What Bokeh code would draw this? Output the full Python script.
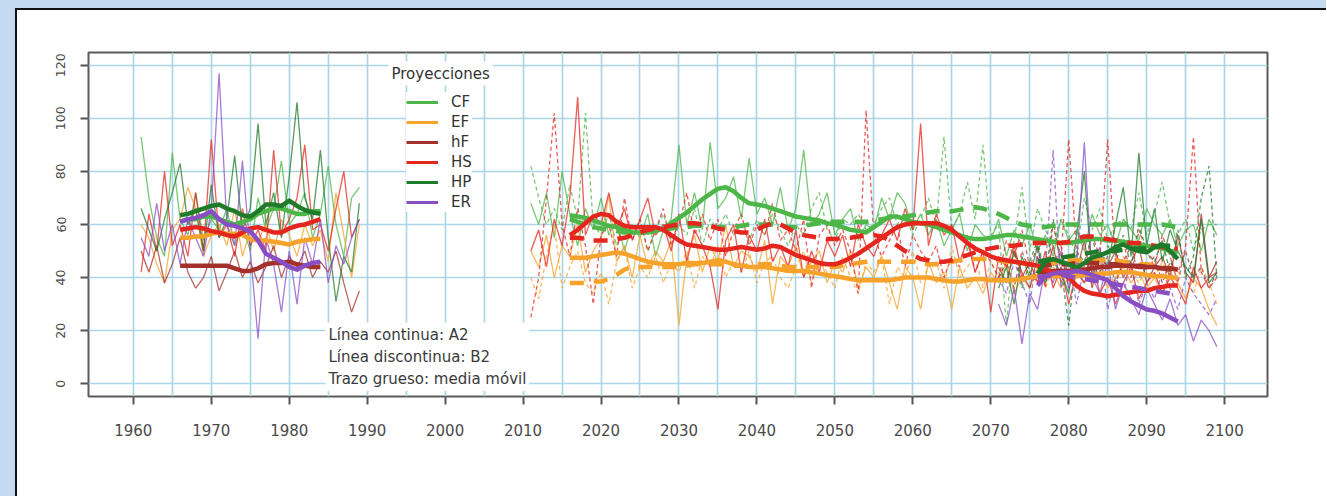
from bokeh.plotting import figure
from bokeh.models import Range1d, FixedTicker, Legend, LegendItem, Label, Div
from bokeh.layouts import row, column
from bokeh.embed import file_html
from bokeh.resources import INLINE

# ---------------- data ----------------
hist_years = list(range(1961, 1990))
hist_ma_years = list(range(1966, 1985))
fut_years = list(range(2011, 2100))
fut_ma_years = list(range(2016, 2095))
late_years = list(range(2071, 2100))
late_ma_years = list(range(2076, 2095))

x_ticks = list(range(1960, 2101, 10))
y_ticks = list(range(0, 121, 20))

cf_hist = [93, 70, 55, 48, 87, 62, 56, 72, 54, 62,
           58, 66, 52, 60, 50, 70, 58, 66, 84, 60,
           64, 72, 55, 64, 82, 60, 48, 70, 74]
ef_hist = [60, 55, 45, 38, 58, 62, 74, 66, 48, 56,
           60, 52, 66, 48, 58, 54, 60, 50, 62, 56,
           48, 60, 52, 58, 46, 72, 56, 40, 60]
hf_hist = [50, 42, 52, 38, 45, 55, 42, 36, 40, 48,
           35, 42, 50, 40, 46, 38, 44, 52, 40, 48,
           44, 50, 40, 46, 42, 50, 38, 27, 35]
hs_hist = [42, 64, 50, 80, 52, 60, 48, 72, 50, 92,
           55, 60, 48, 66, 52, 58, 50, 88, 56, 62,
           70, 90, 58, 60, 50, 66, 80, 55, 62]
hp_hist = [66, 58, 50, 62, 72, 83, 60, 66, 50, 75,
           55, 62, 86, 58, 66, 98, 60, 72, 55, 78,
           106, 70, 62, 88, 55, 31, 48, 42, 68]
er_hist = [55, 48, 68, 50, 60, 45, 62, 55, 48, 66,
           117, 60, 52, 84, 50, 17, 55, 45, 27, 50,
           30, 55, 45, 62, 38, 52, 45, 55, 62]

cf_hist_ma = [61, 62, 62, 63, 63, 62, 61, 60, 61, 62, 64, 65, 66, 66, 65, 64, 64, 65, 65]
ef_hist_ma = [55, 55, 55.5, 55.5, 56.5, 57, 56.5, 56.5, 56, 54.5, 54, 54, 53.5, 53, 52.5, 53.5, 54, 54.5, 54.5]
hf_hist_ma = [44.5, 44.5, 44.5, 44.5, 44.5, 44.5, 44.5, 43.5, 42.5, 42.5, 43.5, 45, 45.5, 45.5, 46, 45, 44.5, 44, 44]
hs_hist_ma = [58, 58.5, 59, 58.5, 57.5, 57, 56, 55.5, 57, 58.5, 59, 58, 57, 57, 58.5, 59.5, 60, 61, 62]
hp_hist_ma = [63.5, 64, 65, 66, 67, 67.5, 66, 65, 63.5, 63, 65, 67.5, 67.5, 67, 69, 67, 65.5, 64.5, 64]
er_hist_ma = [61, 62, 62.5, 63.5, 65, 62, 60, 59.5, 58.5, 57.5, 54, 49, 47.5, 46, 44, 43, 44.5, 45.5, 46]

cf_a2 = [68, 60, 72, 55, 80, 64, 52, 66, 58, 70,
         56, 62, 50, 60, 55, 64, 48, 58, 62, 90,
         60, 72, 58, 91, 66, 70, 78, 62, 85, 64,
         70, 60, 74, 58, 66, 88, 60, 64, 72, 56,
         62, 66, 54, 60, 58, 70, 62, 72, 68, 58,
         64, 56, 62, 52, 58, 64, 50, 60, 56, 54,
         62, 48, 58, 52, 60, 50, 56, 48, 62, 54,
         58, 50, 64, 56, 60, 52, 62, 58, 54, 66,
         60, 56, 62, 52, 58, 60, 50, 62, 56]
cf_b2 = [82, 70, 60, 66, 58, 75, 62, 102, 60, 56,
         64, 52, 60, 55, 62, 50, 58, 64, 54, 60,
         56, 66, 52, 62, 58, 64, 56, 60, 54, 62,
         56, 64, 58, 52, 60, 56, 66, 72, 58, 54,
         62, 60, 64, 58, 60, 66, 70, 60, 64, 56,
         62, 70, 60, 93, 58, 64, 76, 62, 90, 56,
         60, 22, 54, 74, 50, 66, 58, 52, 62, 56,
         48, 70, 58, 66, 54, 60, 62, 58, 72, 56,
         64, 76, 60, 56, 62, 50, 58, 60, 60]
ef_a2 = [50, 44, 56, 40, 52, 48, 60, 42, 50, 55,
         71, 46, 52, 40, 56, 44, 50, 46, 54, 22,
         48, 56, 42, 52, 46, 60, 44, 50, 48, 42,
         54, 30, 48, 44, 52, 40, 46, 50, 38, 46,
         42, 50, 36, 44, 40, 48, 38, 28, 44, 40,
         28, 46, 38, 42, 28, 44, 36, 40, 34, 42,
         38, 46, 34, 40, 36, 44, 38, 42, 36, 40,
         44, 38, 42, 46, 36, 40, 44, 38, 42, 36,
         40, 34, 42, 38, 32, 40, 36, 28, 22]
ef_b2 = [40, 32, 48, 60, 36, 44, 50, 38, 34, 42,
         30, 46, 52, 36, 44, 40, 48, 38, 46, 42,
         50, 36, 48, 44, 52, 40, 46, 42, 50, 38,
         46, 48, 40, 36, 44, 50, 38, 46, 42, 36,
         48, 40, 34, 46, 42, 48, 30, 44, 40, 50,
         38, 44, 46, 36, 52, 40, 44, 48, 36, 46,
         40, 44, 50, 38, 42, 46, 36, 44, 40, 48,
         42, 38, 46, 40, 44, 36, 48, 42, 38, 44,
         40, 46, 36, 42, 40, 34, 44, 38, 30]
hs_a2 = [50, 58, 44, 62, 52, 70, 108, 56, 64, 60,
         72, 58, 66, 54, 62, 70, 56, 60, 50, 64,
         46, 58, 52, 44, 28, 54, 60, 42, 56, 50,
         62, 46, 52, 44, 58, 40, 50, 42, 54, 48,
         56, 44, 60, 52, 48, 56, 62, 54, 66, 58,
         98, 52, 64, 56, 60, 46, 54, 42, 50, 27,
         48, 44, 52, 40, 46, 38, 50, 36, 44, 30,
         42, 38, 46, 34, 40, 30, 38, 44, 32, 38,
         42, 34, 40, 36, 30, 44, 36, 40, 42]
hs_b2 = [25, 40, 70, 102, 60, 48, 66, 52, 30, 56,
         60, 48, 70, 54, 62, 50, 58, 66, 52, 60,
         72, 56, 64, 54, 62, 48, 58, 64, 52, 60,
         56, 68, 54, 58, 50, 62, 36, 56, 60, 52,
         58, 50, 34, 103, 56, 48, 54, 60, 44, 56,
         50, 46, 52, 40, 48, 44, 56, 42, 50, 46,
         40, 54, 48, 58, 44, 52, 36, 60, 46, 92,
         50, 44, 56, 48, 92, 46, 54, 40, 58, 50,
         44, 56, 48, 38, 52, 93, 42, 36, 40]

hf_a2 = [44, 38, 50, 42, 36, 48, 40, 52, 38, 46,
         42, 54, 36, 48, 44, 50, 40, 46, 52, 38,
         44, 48, 40, 56, 42, 38, 64, 40, 46]
hf_b2 = [40, 46, 36, 50, 42, 38, 48, 44, 52, 36,
         46, 40, 50, 42, 48, 38, 46, 52, 40, 44,
         48, 38, 46, 42, 50, 40, 44, 36, 42]
hp_a2 = [36, 44, 30, 48, 40, 52, 38, 46, 42, 34,
         56, 80, 40, 50, 44, 60, 74, 48, 87, 52,
         66, 46, 58, 50, 44, 40, 62, 38, 42]
hp_b2 = [42, 38, 50, 36, 46, 54, 40, 62, 44, 22,
         50, 46, 56, 42, 52, 48, 56, 44, 60, 50,
         46, 54, 42, 58, 40, 48, 70, 82, 40]
er_a2 = [30, 22, 36, 15, 34, 28, 44, 38, 50, 36,
         44, 91, 40, 34, 46, 28, 38, 32, 26, 36,
         30, 24, 32, 22, 26, 16, 24, 20, 14]
er_b2 = [40, 34, 46, 38, 30, 50, 42, 88, 36, 48,
         30, 44, 38, 52, 28, 40, 34, 46, 30, 38,
         32, 42, 36, 28, 40, 34, 30, 26, 32]

cf_a2_ma = [63.5, 63, 62.5, 61.5, 60.5, 59.5, 59, 58, 57, 57,
            57, 57.5, 58.5, 60.5, 62.5, 64.5, 67, 69.5, 71.5, 73.5,
            74, 72.5, 70, 68, 67.5, 67, 66, 65, 64, 63,
            62.5, 62, 61.5, 60.5, 60, 59, 58, 57.5, 57, 59,
            61, 63, 63, 62, 61, 60.5, 60, 59, 58, 57,
            56, 55, 54.5, 54.5, 55, 55.5, 56, 56, 55.5, 55,
            54.5, 54, 53.5, 53, 53, 53.5, 54, 54.5, 54.5, 54,
            54, 53.5, 53, 52.5, 52, 51.5, 51, 50, 49.5]
cf_b2_ma = [62, 61, 60, 59, 58.5, 58, 57.5, 57, 57, 57,
            57.5, 57.5, 58, 58.5, 59, 59, 59.5, 59.5, 59, 59,
            59, 59, 59.5, 60, 60, 60, 60, 59.5, 59, 59,
            59.5, 60, 60.5, 61, 61, 61, 61, 61, 61, 61.5,
            62, 62.5, 63, 63, 63.5, 64, 64.5, 65, 65, 65,
            65.5, 66, 66.5, 66, 65, 64, 62.5, 61, 60, 59.5,
            59, 59, 59.5, 60, 60, 60, 60, 60, 60, 60,
            60, 60, 60, 60, 60, 60, 60, 59.5, 59]
ef_a2_ma = [47.5, 47.5, 47.5, 48, 48.5, 49, 49.5, 49, 48, 47,
            46, 45.5, 45, 45, 45, 45.5, 45.5, 45.5, 46, 46.5,
            46, 45, 44.5, 44, 44, 44, 43.5, 43, 42.5, 42.5,
            42.5, 42, 41.5, 41, 40.5, 40, 39.5, 39, 39, 39,
            39, 39, 39.5, 40, 40, 40, 40, 39.5, 39, 38.5,
            38.5, 39, 39.5, 39.5, 39, 39, 39, 39, 39.5, 40,
            40.5, 40.5, 40.5, 40.5, 40.5, 40.5, 41, 41, 41.5, 41.5,
            42, 42, 42, 41.5, 41, 40.5, 40.5, 40, 40]
ef_b2_ma = [38, 38, 38, 38.5, 38.5, 39.5, 41, 43, 44, 44,
            44, 44, 44, 44, 44, 44.5, 45, 45, 45, 45,
            45, 44.5, 44.5, 44.5, 45, 45, 45, 44.5, 44, 44,
            44, 44, 44, 44, 44, 44.5, 45, 45.5, 46, 46,
            46, 46, 46, 46, 46, 45.5, 45, 45, 45.5, 46,
            46.5, 47, 47, 47, 47, 46.5, 46, 46, 45.5, 45,
            45, 45, 45.5, 46, 46.5, 46.5, 46.5, 46.5, 46.5, 46.5,
            46.5, 46, 45.5, 45, 45, 44.5, 44, 43.5, 43]
hs_a2_ma = [56, 58, 60.5, 63, 64, 63.5, 61, 59.5, 59, 59,
            59, 59, 58, 56, 54, 52.5, 52, 51.5, 51, 50.5,
            50.5, 51, 51.5, 51, 50.5, 51, 52, 51.5, 50, 48.5,
            47.5, 46.5, 45.5, 45, 45, 46, 47.5, 49, 51, 53,
            55, 57, 59, 60, 60.5, 60.5, 60.5, 60.5, 59.5, 58,
            55.5, 53, 51, 49.5, 48, 47, 46.5, 46, 45.5, 45,
            44.5, 43, 42, 41.5, 40, 37, 35, 34, 33.5, 33,
            33.5, 34, 34.5, 35, 35, 36, 36.5, 37, 37]
hs_b2_ma = [55, 55, 54.5, 54, 54, 54, 54.5, 55, 56, 57,
            58, 58.5, 59, 59.5, 60, 60.5, 60.5, 60, 59.5, 58.5,
            58, 57.5, 57, 57, 58, 59.5, 60.5, 60, 58.5, 57,
            56, 55.5, 55, 54.5, 54.5, 55, 55, 55.5, 56, 56,
            55.5, 54, 52, 50, 48.5, 47, 46.5, 46, 46, 46.5,
            47.5, 48.5, 49.5, 50.5, 51, 51.5, 52, 52, 52.5, 53,
            53, 53, 53, 53, 53.5, 54.5, 55.5, 55.5, 55, 54.5,
            54, 53.5, 53, 53, 52.5, 52, 51.5, 51, 51]

hf_a2_ma = [42, 42, 42.5, 42.5, 42.5, 43, 43, 43.5, 44, 44, 44.5, 44.5, 44.5, 44.5, 44, 44, 43.5, 43.5, 43]
hf_b2_ma = [44, 44.5, 45, 45, 45, 45.5, 45.5, 45.5, 45.5, 45, 45, 44.5, 44.5, 44, 44, 43.5, 43.5, 43, 43]
hp_a2_ma = [41.5, 46, 47, 46, 45, 43.75, 45.5, 47.5, 48.5, 49.5, 51.5, 52.5, 51, 50, 49.5, 51.5, 52.5, 50, 47]
hp_b2_ma = [46, 46.5, 47, 47.5, 48, 48.5, 49, 49.5, 50, 50, 50, 50.5, 51, 51, 51, 51.5, 52, 52, 52]
er_a2_ma = [37, 40.5, 41.5, 42, 42, 42.5, 42, 41, 40, 39, 36, 33, 31, 29.5, 28, 27.5, 26.5, 25, 23.5]
er_b2_ma = [40, 40.5, 41, 41, 40.5, 40, 39.5, 39, 38.5, 38, 37.5, 37, 36.5, 36, 35.5, 35, 34.5, 34, 33.5]

models = ["CF", "EF", "hF", "HS", "HP", "ER"]
colors = ["#4cb648", "#f7a22b", "#a3302b", "#e5261f", "#1f7a2a", "#8a4ec4"]

# ---------------- figure ----------------
FONT = "DejaVu Sans"
p = figure(width=1309, height=486,
           x_range=Range1d(1954.25, 2105.5), y_range=Range1d(-4.8, 124.8),
           output_backend="svg", toolbar_location=None,
           min_border_left=71, min_border_right=59, min_border_top=42, min_border_bottom=100,
           background_fill_color="white", border_fill_color="white", margin=0)

p.outline_line_color = "#5a5a5a"
p.outline_line_width = 2

p.xgrid.ticker = FixedTicker(ticks=list(range(1960, 2101, 5)))
p.ygrid.ticker = FixedTicker(ticks=list(range(0, 121, 20)))
for g in (p.xgrid, p.ygrid):
    g.grid_line_color = "#acd6e5"
    g.grid_line_width = 1.7

p.xaxis.ticker = FixedTicker(ticks=x_ticks)
p.yaxis.ticker = FixedTicker(ticks=y_ticks)
for ax in (p.xaxis, p.yaxis):
    ax.axis_line_color = None
    ax.major_tick_line_color = "#555555"
    ax.major_tick_line_width = 2
    ax.major_tick_out = 8
    ax.major_tick_in = 0
    ax.minor_tick_line_color = None
    ax.major_label_text_font = FONT
    ax.major_label_text_color = "#4a4a4a"
p.xaxis.major_label_text_font_size = "15px"
p.xaxis.major_label_standoff = 19
p.yaxis.major_label_text_font_size = "12.5px"
p.yaxis.major_label_orientation = "vertical"
p.yaxis.major_label_standoff = 15

thin_w, thick_w = 1.3, 4.5
thin_dash, thick_dash = "4 3", "14 10"

hist_series = [cf_hist, ef_hist, hf_hist, hs_hist, hp_hist, er_hist]
hist_ma = [cf_hist_ma, ef_hist_ma, hf_hist_ma, hs_hist_ma, hp_hist_ma, er_hist_ma]
fut_a2 = [(fut_years, cf_a2), (fut_years, ef_a2), (late_years, hf_a2),
          (fut_years, hs_a2), (late_years, hp_a2), (late_years, er_a2)]
fut_b2 = [(fut_years, cf_b2), (fut_years, ef_b2), (late_years, hf_b2),
          (fut_years, hs_b2), (late_years, hp_b2), (late_years, er_b2)]
ma_a2 = [(fut_ma_years, cf_a2_ma), (fut_ma_years, ef_a2_ma), (late_ma_years, hf_a2_ma),
         (fut_ma_years, hs_a2_ma), (late_ma_years, hp_a2_ma), (late_ma_years, er_a2_ma)]
ma_b2 = [(fut_ma_years, cf_b2_ma), (fut_ma_years, ef_b2_ma), (late_ma_years, hf_b2_ma),
         (fut_ma_years, hs_b2_ma), (late_ma_years, hp_b2_ma), (late_ma_years, er_b2_ma)]

# thin annual lines
for i, c in enumerate(colors):
    p.line(hist_years, hist_series[i], line_color=c, line_width=thin_w, line_alpha=0.75)
    xs, ys = fut_b2[i]
    p.line(xs, ys, line_color=c, line_width=thin_w, line_alpha=0.75, line_dash=thin_dash)
    xs, ys = fut_a2[i]
    p.line(xs, ys, line_color=c, line_width=thin_w, line_alpha=0.75)

# thick moving averages
for i, c in enumerate(colors):
    p.line(hist_ma_years, hist_ma[i], line_color=c, line_width=thick_w, line_join="round")
    xs, ys = ma_b2[i]
    p.line(xs, ys, line_color=c, line_width=thick_w, line_dash=thick_dash)
    xs, ys = ma_a2[i]
    p.line(xs, ys, line_color=c, line_width=thick_w, line_join="round")

# legend (swatch renderers hold no visible data)
nan = float("nan")
items = []
for m, c in zip(models, colors):
    r = p.line(x=[nan, nan], y=[nan, nan], line_color=c, line_width=3)
    items.append(LegendItem(label=m, renderers=[r]))
legend = Legend(items=items, location=(318, 184), padding=4, spacing=0, margin=0,
                label_height=20, glyph_height=20, glyph_width=32, label_standoff=13,
                label_text_font=FONT, label_text_font_size="15px", label_text_color="#333333",
                background_fill_color="white", background_fill_alpha=1.0,
                border_line_color=None)
p.add_layout(legend)

p.add_layout(Label(x=300, y=323, x_units="screen", y_units="screen", text="Proyecciones",
                   text_font=FONT, text_font_size="15px", text_color="#333333",
                   text_baseline="middle", text_align="left",
                   background_fill_color="white", padding=3))

p.add_layout(Label(x=237, y=74, x_units="screen", y_units="screen",
                   text="Línea continua: A2\nLínea discontinua: B2\nTrazo grueso: media móvil",
                   text_font=FONT, text_font_size="15px", text_color="#3a3a3a",
                   text_baseline="top", text_align="left", text_line_height=1.23,
                   background_fill_color="white", padding=3))

# page frame (light blue surround + dark border)
BLUE = "#c4daf0"
top_band = Div(width=1326, height=8, margin=0, styles={"background-color": BLUE})
top_line = row(Div(width=15, height=2, margin=0, styles={"background-color": BLUE}),
               Div(width=1311, height=2, margin=0, styles={"background-color": "#111111"}),
               spacing=0, margin=0)
body = row(Div(width=15, height=486, margin=0, styles={"background-color": BLUE}),
           Div(width=2, height=486, margin=0, styles={"background-color": "#111111"}),
           p, spacing=0, margin=0)
layout = column(top_band, top_line, body, spacing=0, margin=0)

open("out.html", "w").write(file_html(layout, INLINE))
